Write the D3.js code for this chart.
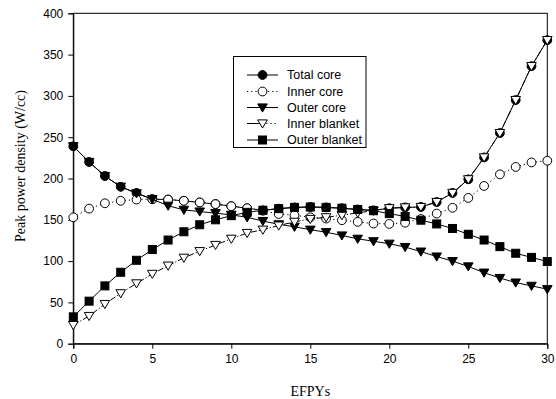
<!DOCTYPE html>
<html><head><meta charset="utf-8">
<script src="https://cdn.jsdelivr.net/npm/d3@7"></script>
<style>body{margin:0;background:#fff}svg{display:block}</style>
</head><body>
<script>
const years = d3.range(0, 31);
const totalCore    = [239,220,203,190,182.5,175,174.5,173,171,169,166.5,164,161.5,163.5,165,165.5,165,164,162.5,161.5,164,165,165.5,171.5,182.5,199,225.5,255,295,336,367.5];
const innerCore    = [153,163.5,170,173,174.5,175,174.5,173,171,169,166.5,164,161,157,155.5,153,151.5,149.5,147.5,145.5,145,146.5,151,157.5,164.5,176.5,191,205,214,219.5,221.5];
const outerCore    = [239,220,203,190,182,175,167,162,160,158,156,153,148.5,144.5,141.5,138,135,131,127,124,121,117,111.5,105.5,100,93.5,86,79.5,74,70,66];
const innerBlanket = [22.5,33.5,48,61,73,84.5,94.5,104,112,119.5,127,134,138,143,147.5,151,153,155.5,158.5,161,164,165,165.5,171.5,182.5,199,225.5,255,295,336,367.5];
const outerBlanket = [32.5,51.5,70,86.5,101,114,125.5,135.5,144,150,155,159,161.5,163.5,165,165.5,165,164,162.5,161,157.5,154,149.5,145,139.5,132.5,125.5,117.5,109.5,104.5,99.5];
const seriesNames = ["Total core","Inner core","Outer core","Inner blanket","Outer blanket"];
const xTicks = [0,5,10,15,20,25,30];
const yTicks = [0,50,100,150,200,250,300,350,400];

const styles = {
  "Total core":    {marker:"circle", fill:"#000", dash:null},
  "Inner core":    {marker:"circle", fill:"#fff", dash:"1.2,3"},
  "Outer core":    {marker:"tri",    fill:"#000", dash:null},
  "Inner blanket": {marker:"tri",    fill:"#fff", dash:"6,2,1.2,2"},
  "Outer blanket": {marker:"square", fill:"#000", dash:null}
};
const seriesData = [totalCore, innerCore, outerCore, innerBlanket, outerBlanket];

const W = 556, H = 399;
const svg = d3.select("body").append("svg").attr("width", W).attr("height", H);
const x = d3.scaleLinear().domain([0,30]).range([73.3,547.3]);
const y = d3.scaleLinear().domain([0,400]).range([343.7,13.3]);
const font = "'Liberation Sans', Arial, sans-serif";
const serif = "'Liberation Serif', 'Times New Roman', serif";

// frame
svg.append("rect").attr("x", x(0)).attr("y", y(400)).attr("width", x(30)-x(0)).attr("height", y(0)-y(400))
  .attr("fill","none").attr("stroke","#000").attr("stroke-width",1);

const xAxis = svg.append("g").attr("transform",`translate(0,${y(0)})`)
  .call(d3.axisBottom(x).tickValues(xTicks).tickSize(5).tickPadding(4).tickFormat(d3.format("d")));
const yAxis = svg.append("g").attr("transform",`translate(${x(0)},0)`)
  .call(d3.axisLeft(y).tickValues(yTicks).tickSize(5).tickPadding(5).tickFormat(d3.format("d")));
[xAxis,yAxis].forEach(g=>{
  g.selectAll("text").attr("font-family",font).attr("font-size",12).attr("fill","#000");
  g.selectAll("line,path").attr("stroke","#000");
});
xAxis.selectAll("text").attr("dy","0.9em");

svg.append("text").attr("x", (x(0)+x(30))/2).attr("y", 396).attr("text-anchor","middle")
  .attr("font-family",serif).attr("font-size",14).text("EFPYs");
svg.append("text").attr("transform",`translate(25,166) rotate(-90)`).attr("text-anchor","middle")
  .attr("font-family",serif).attr("font-size",14).text("Peak power density (W/cc)");

function drawMarker(g, type, fill, cx, cy) {
  if (type === "circle") {
    g.append("circle").attr("cx",cx).attr("cy",cy).attr("r",4.4).attr("fill",fill).attr("stroke","#000").attr("stroke-width",1);
  } else if (type === "square") {
    g.append("rect").attr("x",cx-4).attr("y",cy-4).attr("width",8).attr("height",8).attr("fill",fill).attr("stroke","#000").attr("stroke-width",1);
  } else {
    const s = 4.8;
    g.append("path").attr("d",`M${cx-s},${cy-s*0.75}L${cx+s},${cy-s*0.75}L${cx},${cy+s*0.95}Z`)
      .attr("fill",fill).attr("stroke","#000").attr("stroke-width",1);
  }
}

const line = d3.line().x((d,i)=>x(years[i])).y(d=>y(d));
seriesNames.forEach((name,k)=>{
  const st = styles[name];
  const g = svg.append("g");
  g.append("path").datum(seriesData[k]).attr("d", line).attr("fill","none").attr("stroke","#000")
    .attr("stroke-width",1).attr("stroke-dasharray", st.dash);
  seriesData[k].forEach((v,i)=> drawMarker(g, st.marker, st.fill, x(years[i]), y(v)));
});

// legend
const lg = svg.append("g");
lg.append("rect").attr("x",233.5).attr("y",56.5).attr("width",132.5).attr("height",91)
  .attr("fill","#fff").attr("stroke","#000").attr("stroke-width",1);
const ly = [75, 91.5, 107.5, 123.5, 140];
seriesNames.forEach((name,k)=>{
  const st = styles[name];
  const yy = ly[k];
  if (name === "Inner blanket") {
    lg.append("line").attr("x1",247).attr("x2",262).attr("y1",yy).attr("y2",yy).attr("stroke","#000");
    lg.append("line").attr("x1",262).attr("x2",278).attr("y1",yy).attr("y2",yy).attr("stroke","#000").attr("stroke-dasharray","1.2,3");
  } else {
    lg.append("line").attr("x1",247).attr("x2",278).attr("y1",yy).attr("y2",yy).attr("stroke","#000")
      .attr("stroke-dasharray", st.dash);
  }
  drawMarker(lg, st.marker, st.fill, 262.5, yy);
  lg.append("text").attr("x",287).attr("y",yy).attr("dy","0.35em").attr("font-family",font).attr("font-size",12.5).text(name);
});
</script>
</body></html>
